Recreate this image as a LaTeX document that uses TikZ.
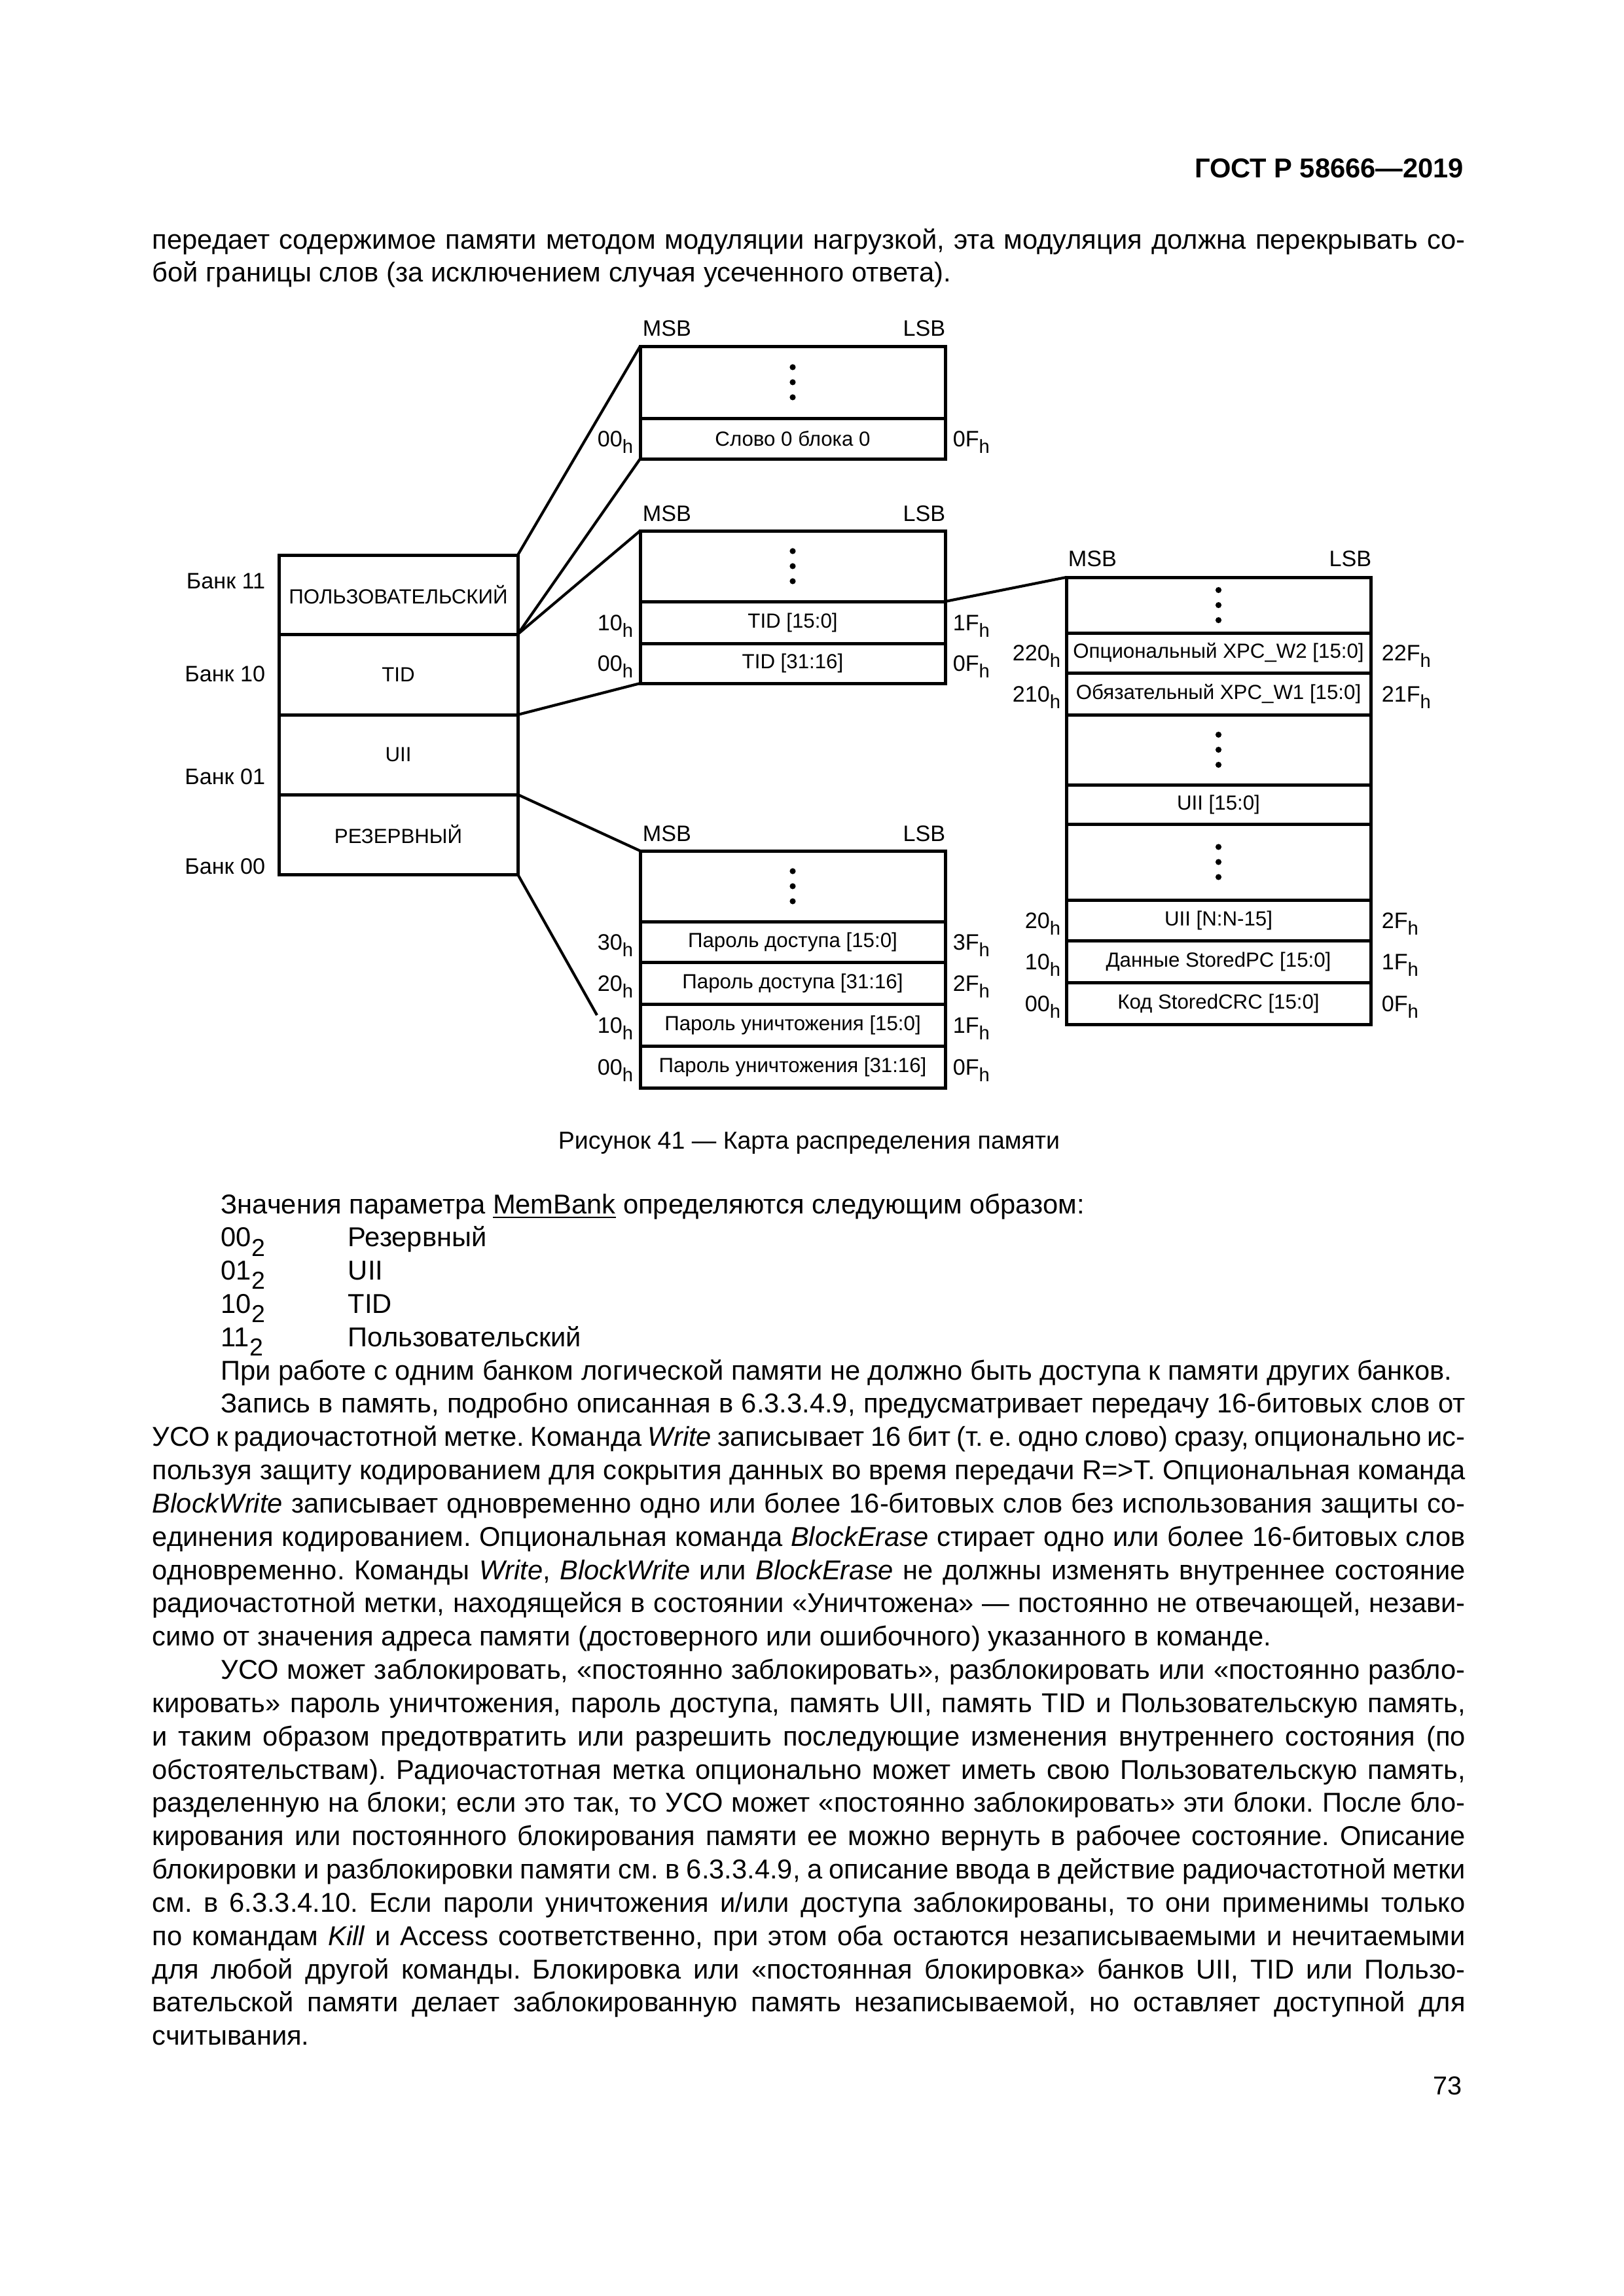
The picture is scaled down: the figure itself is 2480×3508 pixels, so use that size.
\documentclass[tikz,border=0pt]{standalone}
\usepackage{fontspec}
\setmainfont{Liberation Sans}
\frenchspacing
\newcommand\hsub{\raisebox{-2.6pt}{\fontsize{7}{8}\selectfont h}}
\newcommand\twosub{\raisebox{-3.4pt}{\fontsize{9}{10}\selectfont 2}}
\newcommand\jl[1]{\hbox to \hsize{#1}}
\newcommand\nl[1]{\hbox{#1}}
\newcommand\ind{\hskip 25.2pt\relax}
\newcommand\W{0.24003pt}
\begin{document}
\begin{tikzpicture}[x=0.24003pt,y=-0.24003pt,
  box/.style={draw,line width=1.2pt,inner sep=0pt,outer sep=0pt,font=\fontsize{7.5}{9}\selectfont},
  lbl/.style={inner sep=0pt,font=\fontsize{8.2}{10}\selectfont},
  link/.style={line width=1pt},
  txt/.style={inner sep=0pt,font=\fontsize{10}{12.2}\selectfont}]
\useasboundingbox[fill=white] (0,0) rectangle (2480,3508);

% header
\node[inner sep=0pt,font=\bfseries\fontsize{10}{12}\selectfont,anchor=base east] (hdr) at (2237,271) {ГОСТ Р 58666—2019};

% top paragraph
\node[txt,anchor=base west] (top) at (232,380) {\begin{minipage}[t]{481.5pt}\fontsize{10}{12.2}\selectfont\frenchspacing\lineskiplimit=-100pt\baselineskip=12.2pt
\jl{передает содержимое памяти методом модуляции нагрузкой, эта модуляция должна перекрывать со-}
\nl{бой границы слов (за исключением случая усеченного ответа).}
\end{minipage}};

% banks
\node[box,minimum width=365*\W,minimum height=121*\W] (b11) at (608.5,908.5) {ПОЛЬЗОВАТЕЛЬСКИЙ};
\node[box,minimum width=365*\W,minimum height=123*\W] (b10) at (608.5,1030.5) {TID};
\node[box,minimum width=365*\W,minimum height=122*\W] (b01) at (608.5,1153) {UII};
\node[box,minimum width=365*\W,minimum height=122*\W] (b00) at (608.5,1275) {РЕЗЕРВНЫЙ};
\node[lbl,anchor=east] (l11) at (406,888) {Банк 11};
\node[lbl,anchor=east] (l10) at (406,1030) {Банк 10};
\node[lbl,anchor=east] (l01) at (406,1187) {Банк 01};
\node[lbl,anchor=east] (l00) at (406,1324) {Банк 00};

% user block
\node[box,minimum width=466*\W,minimum height=110*\W] (ud) at (1211,584) {};
\node[box,minimum width=466*\W,minimum height=62*\W] (u0) at (1211,670) {Слово 0 блока 0};
\node[lbl,anchor=base west] (umsb) at (981,513) {MSB};
\node[lbl,anchor=base east] (ulsb) at (1445,513) {LSB};
\node[lbl,anchor=base east] (ua0) at (968,682) {00\hsub};
\node[lbl,anchor=base west] (ub0) at (1455,682) {0F\hsub};

% TID block
\node[box,minimum width=466*\W,minimum height=108*\W] (td) at (1211,865) {};
\node[box,minimum width=466*\W,minimum height=64*\W] (t10) at (1211,951) {TID [15:0]};
\node[box,minimum width=466*\W,minimum height=61*\W] (t00) at (1211,1013.5) {TID [31:16]};
\node[lbl,anchor=base west] (tmsb) at (981,796) {MSB};
\node[lbl,anchor=base east] (tlsb) at (1445,796) {LSB};
\node[lbl,anchor=base east] (ta1) at (968,963) {10\hsub};
\node[lbl,anchor=base east] (ta0) at (968,1025) {00\hsub};
\node[lbl,anchor=base west] (tb1) at (1455,963) {1F\hsub};
\node[lbl,anchor=base west] (tb0) at (1455,1025) {0F\hsub};

% password block
\node[box,minimum width=466*\W,minimum height=108*\W] (pd) at (1211,1354) {};
\node[box,minimum width=466*\W,minimum height=62*\W] (p30) at (1211,1439) {Пароль доступа [15:0]};
\node[box,minimum width=466*\W,minimum height=64*\W] (p20) at (1211,1502) {Пароль доступа [31:16]};
\node[box,minimum width=466*\W,minimum height=64*\W] (p10) at (1211,1566) {Пароль уничтожения [15:0]};
\node[box,minimum width=466*\W,minimum height=64*\W] (p00) at (1211,1630) {Пароль уничтожения [31:16]};
\node[lbl,anchor=base west] (pmsb) at (981,1285) {MSB};
\node[lbl,anchor=base east] (plsb) at (1445,1285) {LSB};
\node[lbl,anchor=base east] (pa3) at (968,1451) {30\hsub};
\node[lbl,anchor=base east] (pa2) at (968,1514) {20\hsub};
\node[lbl,anchor=base east] (pa1) at (968,1578) {10\hsub};
\node[lbl,anchor=base east] (pa0) at (968,1642) {00\hsub};
\node[lbl,anchor=base west] (pb3) at (1455,1451) {3F\hsub};
\node[lbl,anchor=base west] (pb2) at (1455,1514) {2F\hsub};
\node[lbl,anchor=base west] (pb1) at (1455,1578) {1F\hsub};
\node[lbl,anchor=base west] (pb0) at (1455,1642) {0F\hsub};

% UII block
\node[box,minimum width=465*\W,minimum height=85*\W] (xd1) at (1861.5,924.5) {};
\node[box,minimum width=465*\W,minimum height=61*\W] (x220) at (1861.5,997.5) {Опциональный XPC\_W2 [15:0]};
\node[box,minimum width=465*\W,minimum height=64*\W] (x210) at (1861.5,1060) {Обязательный XPC\_W1 [15:0]};
\node[box,minimum width=465*\W,minimum height=107*\W] (xd2) at (1861.5,1145.5) {};
\node[box,minimum width=465*\W,minimum height=60*\W] (xu) at (1861.5,1229) {UII [15:0]};
\node[box,minimum width=465*\W,minimum height=116*\W] (xd3) at (1861.5,1317) {};
\node[box,minimum width=465*\W,minimum height=62*\W] (x20) at (1861.5,1406) {UII [N:N-15]};
\node[box,minimum width=465*\W,minimum height=64*\W] (x10) at (1861.5,1469) {Данные StoredPC [15:0]};
\node[box,minimum width=465*\W,minimum height=64*\W] (x00) at (1861.5,1533) {Код StoredCRC [15:0]};
\node[lbl,anchor=base west] (xmsb) at (1631,865) {MSB};
\node[lbl,anchor=base east] (xlsb) at (2096,865) {LSB};
\node[lbl,anchor=base east] (xa220) at (1621,1009) {220\hsub};
\node[lbl,anchor=base east] (xa210) at (1621,1072) {210\hsub};
\node[lbl,anchor=base east] (xa20) at (1621,1418) {20\hsub};
\node[lbl,anchor=base east] (xa10) at (1621,1481) {10\hsub};
\node[lbl,anchor=base east] (xa00) at (1621,1545) {00\hsub};
\node[lbl,anchor=base west] (xb220) at (2110,1009) {22F\hsub};
\node[lbl,anchor=base west] (xb210) at (2110,1072) {21F\hsub};
\node[lbl,anchor=base west] (xb20) at (2110,1418) {2F\hsub};
\node[lbl,anchor=base west] (xb10) at (2110,1481) {1F\hsub};
\node[lbl,anchor=base west] (xb00) at (2110,1545) {0F\hsub};

% dots
\foreach \n in {ud,td,pd,xd1,xd2,xd3}{
  \foreach \d in {-23,0,23}{
    \fill ([yshift=-\d*0.24003pt]\n.center) circle[radius=1.1pt];
  }
}

% connectors
\coordinate (kend) at (912,1551);
\draw[link] (b11.north east) -- (ud.north west);
\draw[link] (b11.south east) -- (u0.south west);
\draw[link] (b11.south east) -- (td.north west);
\draw[link] (b10.south east) -- (t00.south west);
\draw[link] (td.south east) -- (xd1.north west);
\draw[link] (b01.south east) -- (pd.north west);
\draw[link] (b00.south east) -- (kend);

% caption
\node[inner sep=0pt,font=\fontsize{9}{11}\selectfont,anchor=base] (cap) at (1236,1755) {Рисунок 41 — Карта распределения памяти};

% body
\node[txt,anchor=base west] (body) at (232,1854) {\begin{minipage}[t]{481.5pt}\fontsize{10}{12.2}\selectfont\frenchspacing\lineskiplimit=-100pt\baselineskip=12.2pt
\nl{\ind Значения параметра \underline{MemBank} определяются следующим образом:}
\nl{\ind\makebox[46.6pt][l]{00\twosub}Резервный}
\nl{\ind\makebox[46.6pt][l]{01\twosub}UII}
\nl{\ind\makebox[46.6pt][l]{10\twosub}TID}
\nl{\ind\makebox[46.6pt][l]{11\twosub}Пользовательский}
\nl{\ind При работе с одним банком логической памяти не должно быть доступа к памяти других банков.}
\jl{\ind Запись в память, подробно описанная в 6.3.3.4.9, предусматривает передачу 16-битовых слов от}
\jl{УСО к радиочастотной метке. Команда \textit{Write} записывает 16 бит (т. е. одно слово) сразу, опционально ис-}
\jl{пользуя защиту кодированием для сокрытия данных во время передачи R=>T. Опциональная команда}
\jl{\textit{BlockWrite} записывает одновременно одно или более 16-битовых слов без использования защиты со-}
\jl{единения кодированием. Опциональная команда \textit{BlockErase} стирает одно или более 16-битовых слов}
\jl{одновременно. Команды \textit{Write}, \textit{BlockWrite} или \textit{BlockErase} не должны изменять внутреннее состояние}
\jl{радиочастотной метки, находящейся в состоянии «Уничтожена» — постоянно не отвечающей, незави-}
\nl{симо от значения адреса памяти (достоверного или ошибочного) указанного в команде.}
\jl{\ind УСО может заблокировать, «постоянно заблокировать», разблокировать или «постоянно разбло-}
\jl{кировать» пароль уничтожения, пароль доступа, память UII, память TID и Пользовательскую память,}
\jl{и таким образом предотвратить или разрешить последующие изменения внутреннего состояния (по}
\jl{обстоятельствам). Радиочастотная метка опционально может иметь свою Пользовательскую память,}
\jl{разделенную на блоки; если это так, то УСО может «постоянно заблокировать» эти блоки. После бло-}
\jl{кирования или постоянного блокирования памяти ее можно вернуть в рабочее состояние. Описание}
\jl{блокировки и разблокировки памяти см. в 6.3.3.4.9, а описание ввода в действие радиочастотной метки}
\jl{см. в 6.3.3.4.10. Если пароли уничтожения и/или доступа заблокированы, то они применимы только}
\jl{по командам \textit{Kill} и Access соответственно, при этом оба остаются незаписываемыми и нечитаемыми}
\jl{для любой другой команды. Блокировка или «постоянная блокировка» банков UII, TID или Пользо-}
\jl{вательской памяти делает заблокированную память незаписываемой, но оставляет доступной для}
\nl{считывания.}
\end{minipage}};

\node[inner sep=0pt,font=\fontsize{9.5}{11}\selectfont,anchor=base east] (pg) at (2234,3200) {73};
\end{tikzpicture}
\end{document}
